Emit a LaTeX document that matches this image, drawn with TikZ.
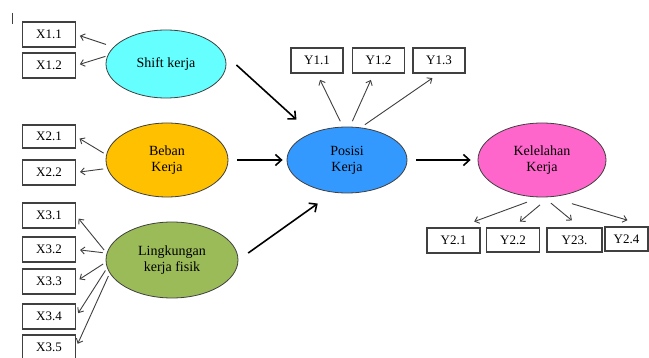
\documentclass[tikz,border=0pt]{standalone}
\usepackage{fontspec}
\setmainfont{Liberation Serif}
\usetikzlibrary{shapes.geometric,arrows.meta}
\definecolor{shiftcol}{RGB}{102,255,255}
\definecolor{bebancol}{RGB}{255,192,0}
\definecolor{posisicol}{RGB}{51,153,255}
\definecolor{lingcol}{RGB}{155,187,89}
\definecolor{kelcol}{RGB}{255,102,204}
\definecolor{edgecol}{RGB}{64,64,64}

\begin{document}
\begin{tikzpicture}[x=1pt,y=-1pt,
    latent/.style={ellipse,draw=edgecol,line width=0.8pt,inner sep=0pt,align=center,
      font=\fontsize{14}{16}\selectfont},
    indic/.style={rectangle,draw=edgecol,line width=1.1pt,minimum width=53pt,
      minimum height=25pt,inner sep=0pt,font=\fontsize{13}{15}\selectfont},
    loading/.style={draw=edgecol,line width=0.9pt,-{Straight Barb[length=4pt,width=7pt]}},
    struct/.style={draw=black,line width=1.6pt,-{Straight Barb[length=6pt,width=11pt]}}]
    \fill[white] (0,0) rectangle (649,358);
    \useasboundingbox (0,0) rectangle (649,358);
    \draw[line width=0.8pt,edgecol] (12,13) -- (12,24);

    % latent variables
    \node[latent,fill=shiftcol,minimum width=120pt,minimum height=68pt] (shift) at (166,64) {Shift kerja};
    \node[latent,fill=bebancol,minimum width=122pt,minimum height=74pt] (beban) at (167,160) {Beban\\Kerja};
    \node[latent,fill=lingcol,minimum width=132pt,minimum height=76pt] (ling) at (172,260) {Lingkungan\\kerja fisik};
    \node[latent,fill=posisicol,minimum width=120pt,minimum height=66pt] (posisi) at (347,160) {Posisi\\Kerja};
    \node[latent,fill=kelcol,minimum width=128pt,minimum height=74pt] (kel) at (542,160) {Kelelahan\\Kerja};

    % indicators
    \node[indic] (x11) at (49,34.5) {X1.1};
    \node[indic] (x12) at (49,65.5) {X1.2};
    \node[indic,minimum height=23pt] (x21) at (49,136.5) {X2.1};
    \node[indic] (x22) at (49,172.5) {X2.2};
    \node[indic] (x31) at (49,215.5) {X3.1};
    \node[indic] (x32) at (49,249.5) {X3.2};
    \node[indic] (x33) at (49,281.5) {X3.3};
    \node[indic] (x34) at (49,316.5) {X3.4};
    \node[indic] (x35) at (49,347.5) {X3.5};
    \node[indic,minimum width=52pt] (y11) at (317,60.5) {Y1.1};
    \node[indic,minimum width=52pt] (y12) at (378.5,60.5) {Y1.2};
    \node[indic,minimum width=52pt] (y13) at (439,60.5) {Y1.3};
    \node[indic] (y21) at (453.5,240.5) {Y2.1};
    \node[indic,minimum height=24pt] (y22) at (513,240) {Y2.2};
    \node[indic,minimum width=55pt,minimum height=24pt] (y23) at (574.5,240) {Y23.};
    \node[indic,minimum width=43pt,minimum height=24pt] (y24) at (626.5,239) {Y2.4};

    % loadings
    \draw[loading,shorten <=8pt,shorten >=4pt] (shift.162) -- (x11.east);
    \draw[loading,shorten <=2pt,shorten >=4pt] (shift.172) -- (x12.east);
    \draw[loading,shorten <=3pt,shorten >=4pt] (beban.175) -- (x21.east);
    \draw[loading,shorten <=4pt,shorten >=4pt] (beban.188) -- (x22.east);
    \draw[loading,shorten <=4pt,shorten >=4pt] (ling.174) -- (x31.east);
    \draw[loading,shorten <=4pt,shorten >=4pt] (ling.174) -- (x32.east);
    \draw[loading,shorten <=3pt,shorten >=4pt] (ling.182) -- (x33.east);
    \draw[loading,shorten <=3pt,shorten >=4pt] (ling.187) -- (x34.east);
    \draw[loading,shorten <=3pt,shorten >=4pt] (ling.192) -- (x35.east);
    \draw[loading,shorten <=6pt,shorten >=7pt] (posisi.97) -- (y11.south);
    \draw[loading,shorten <=6pt,shorten >=7pt] (posisi.85) -- (y12.250);
    \draw[loading,shorten <=5pt,shorten >=8pt] (posisi.67) -- (y13.south);
    \draw[loading,shorten <=14pt,shorten >=17pt] (kel.267) -- (y21.70);
    \draw[loading,shorten <=12pt,shorten >=9pt] (kel.281) -- (y22.north);
    \draw[loading,shorten <=9pt,shorten >=11pt] (kel.273) -- (y23.65);
    \draw[loading,shorten <=23pt,shorten >=22pt] (kel.282) -- (y24.north east);

    % structural paths
    \draw[struct,shorten <=18pt,shorten >=20pt] (shift.11) -- (posisi.143);
    \draw[struct,shorten <=9pt,shorten >=4pt] (beban.east) -- (posisi.west);
    \draw[struct,shorten <=12pt,shorten >=19pt] (ling.east) -- (posisi.247);
    \draw[struct,shorten <=9pt,shorten >=7pt] (posisi.east) -- (kel.west);
\end{tikzpicture}
\end{document}
